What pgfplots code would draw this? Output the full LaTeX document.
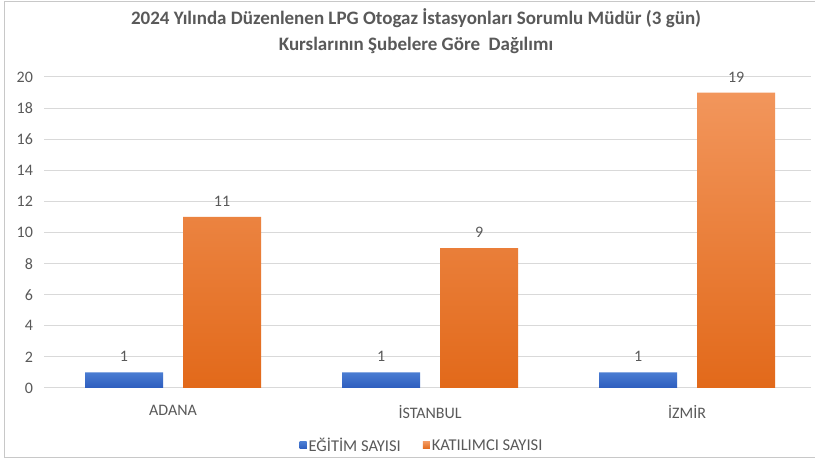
\documentclass[border=0pt]{standalone}
\usepackage{pgfplots}
\pgfplotsset{compat=1.18}
\usepackage{fontspec}
\setmainfont{Carlito}
\definecolor{txt}{HTML}{595959}
\definecolor{gridc}{HTML}{D9D9D9}
\definecolor{frame}{HTML}{C8C8C8}
\definecolor{blueT}{HTML}{4A7CD2}
\definecolor{blueB}{HTML}{2D5DBE}
\definecolor{orT}{HTML}{F2965C}
\definecolor{orB}{HTML}{E2691A}
\begin{document}
\begin{tikzpicture}[x=1pt,y=1pt]
\useasboundingbox (0,0) rectangle (815,463);
\begin{scope}
\clip (0,0) rectangle (815,463);
\draw[frame, line width=1pt, fill=white] (4.5,5) rectangle (822,461.5);
\end{scope}
\node[font=\fontsize{19}{26}\selectfont\bfseries, text=txt, align=center] at (416,432) {2024 Yılında Düzenlenen LPG Otogaz İstasyonları Sorumlu Müdür (3 gün)\\Kurslarının Şubelere Göre\ \ Dağılımı};
\begin{axis}[
  at={(44.5pt,75pt)}, anchor=south west,
  scale only axis, width=766pt, height=311pt,
  xmin=-0.5, xmax=2.48, ymin=0, ymax=20,
  ytick={0,2,...,20}, xtick={0,1,2},
  xticklabels={ADANA, İSTANBUL, İZMİR},
  ymajorgrids, grid style={draw=gridc, line width=1pt},
  axis line style={draw=none},
  major tick length=0pt,
  /pgf/number format/assume math mode=true,
  tick label style={font=\fontsize{16}{18}\selectfont, text=txt},
  xticklabel style={yshift=-14pt},
  yticklabel style={xshift=-8pt},
  ybar=20pt, bar width=78pt,
  nodes near coords,
  every node near coord/.append style={font=\fontsize{16}{18}\selectfont, text=txt, yshift=7pt},
  legend style={at={(422pt-44.5pt,17pt-75pt)}, anchor=center, draw=none, fill=none,
    legend columns=2, font=\fontsize{16.5}{18}\selectfont, text=txt,
    /tikz/every even column/.append style={column sep=20pt}},
]
\addplot[draw=none, top color=blueT, bottom color=blueB,
  legend image code/.code={\fill[blueB!85!blueT] (0pt,-3pt) rectangle (7pt,4pt);}] coordinates {(0,1) (1,1) (2,1)};
\addplot[draw=none, top color=orT, bottom color=orB,
  legend image code/.code={\fill[orB!85!orT] (0pt,-3pt) rectangle (7pt,4pt);}] coordinates {(0,11) (1,9) (2,19)};
\legend{EĞİTİM SAYISI, KATILIMCI SAYISI}
\end{axis}
\end{tikzpicture}
\end{document}
